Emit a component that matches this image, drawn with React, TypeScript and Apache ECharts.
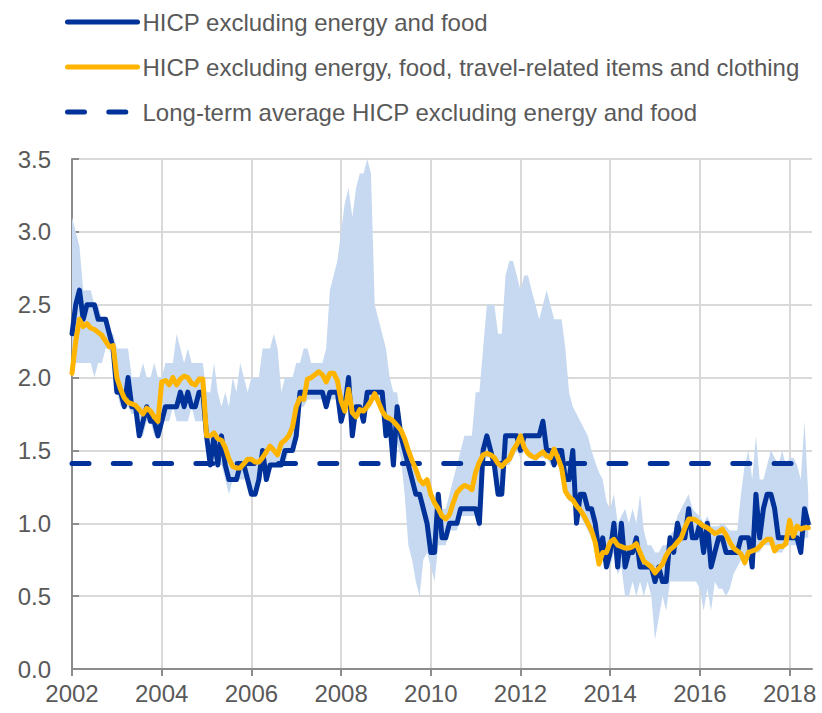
import React, { useEffect, useRef } from "react";
import * as echarts from "echarts";

// ---------- data (monthly, Jan 2002 – Jun 2018) ----------
const startYear = 2002;
const axisMonths = 199; // Jan 2002 .. Jul 2018 (axis end)

// HICP excluding energy and food (annual % change)
const hicpx = [
  2.3, 2.5, 2.6, 2.4, 2.5, 2.5, 2.5, 2.4, 2.4, 2.4, 2.3, 2.2,
  1.9, 1.9, 1.8, 2.0, 1.8, 1.8, 1.6, 1.7, 1.8, 1.7, 1.7, 1.6,
  1.7, 1.8, 1.8, 1.8, 1.8, 1.9, 1.8, 1.9, 1.8, 1.8, 1.9, 1.9,
  1.6, 1.4, 1.6, 1.4, 1.6, 1.4, 1.3, 1.3, 1.3, 1.4, 1.4, 1.3,
  1.2, 1.2, 1.3, 1.5, 1.3, 1.4, 1.4, 1.4, 1.4, 1.5, 1.5, 1.5,
  1.6, 1.9, 1.9, 1.9, 1.9, 1.9, 1.9, 1.9, 1.8, 1.9, 1.9, 1.9,
  1.7, 1.8, 2.0, 1.6, 1.8, 1.8, 1.7, 1.9, 1.9, 1.9, 1.9, 1.9,
  1.6, 1.7, 1.4, 1.8, 1.6, 1.5, 1.4, 1.3, 1.2, 1.2, 1.1, 1.0,
  0.8, 0.8, 1.2, 0.9, 0.9, 1.0, 1.0, 1.0, 1.1, 1.1, 1.1, 1.1,
  1.1, 1.0, 1.5, 1.6, 1.5, 1.4, 1.2, 1.2, 1.6, 1.6, 1.6, 1.6,
  1.5, 1.6, 1.6, 1.6, 1.6, 1.6, 1.7, 1.5, 1.5, 1.4, 1.5, 1.5,
  1.3, 1.3, 1.5, 1.0, 1.2, 1.2, 1.1, 1.1, 1.0, 0.8, 0.9, 0.7,
  0.8, 1.0, 0.7, 1.0, 0.7, 0.8, 0.8, 0.9, 0.7, 0.7, 0.7, 0.7,
  0.6, 0.7, 0.6, 0.6, 0.9, 0.8, 1.0, 0.9, 0.9, 1.1, 0.9, 0.9,
  1.0, 0.8, 1.0, 0.7, 0.8, 0.9, 0.9, 0.8, 0.8, 0.8, 0.8, 0.9,
  0.9, 0.9, 0.7, 1.2, 0.9, 1.1, 1.2, 1.2, 1.1, 0.9, 0.9, 0.9,
  0.9, 0.9, 0.9, 0.8, 1.1, 1.0,
];

// HICP excluding energy, food, travel-related items and clothing
const hicpxNarrow = [
  2.03, 2.25, 2.4, 2.35, 2.37, 2.34, 2.33, 2.31, 2.29, 2.25, 2.21, 2.22,
  2.0, 1.92, 1.86, 1.83, 1.82, 1.81, 1.78, 1.75, 1.79, 1.77, 1.73, 1.7,
  1.97, 1.98, 1.95, 2.0, 1.95, 1.99, 2.01, 2.0, 1.96, 1.95, 1.99, 1.99,
  1.6, 1.6, 1.62, 1.58, 1.57, 1.52, 1.44, 1.39, 1.38, 1.38, 1.41, 1.44,
  1.44, 1.42, 1.42, 1.45, 1.49, 1.53, 1.5, 1.47, 1.55, 1.57, 1.6, 1.66,
  1.8, 1.86, 1.85, 1.99, 2.0, 2.02, 2.04, 2.02, 1.97, 2.03, 2.03, 1.98,
  1.84, 1.77, 1.92, 1.76, 1.73, 1.78, 1.77, 1.8, 1.84, 1.89, 1.83, 1.77,
  1.73, 1.72, 1.7, 1.67, 1.64, 1.58, 1.5, 1.43, 1.37, 1.3, 1.27, 1.3,
  1.2, 1.14, 1.1, 1.05, 1.03, 1.06, 1.14, 1.21, 1.24, 1.26, 1.25, 1.23,
  1.35, 1.42, 1.47, 1.48, 1.47, 1.45, 1.41, 1.39, 1.42, 1.44, 1.5, 1.54,
  1.6, 1.52, 1.48, 1.46, 1.45, 1.47, 1.49, 1.46, 1.45, 1.51, 1.45, 1.38,
  1.22, 1.18, 1.16, 1.12, 1.09, 1.05, 1.0, 0.95, 0.87, 0.72, 0.8, 0.8,
  0.87, 0.89, 0.85, 0.84, 0.83, 0.83, 0.84, 0.86, 0.8, 0.74, 0.72, 0.7,
  0.66, 0.69, 0.72, 0.78, 0.82, 0.84, 0.87, 0.9, 0.97, 1.03, 1.03, 1.02,
  1.0, 0.98, 0.97, 0.95, 0.93, 0.94, 0.96, 0.92, 0.87, 0.83, 0.81, 0.79,
  0.73, 0.8, 0.81, 0.82, 0.84, 0.87, 0.89, 0.89, 0.81, 0.84, 0.84, 0.86,
  1.02, 0.91, 0.98, 0.96, 0.97, 0.97,
];

// range of underlying inflation measures (shaded band)
const rangeLow = [
  2.0, 2.1, 2.1, 2.1, 2.1, 2.1, 2.0, 2.1, 2.1, 2.2, 2.2, 2.1,
  1.9, 1.8, 1.8, 1.8, 1.75, 1.75, 1.6, 1.6, 1.7, 1.7, 1.6, 1.6,
  1.7, 1.7, 1.7, 1.8, 1.7, 1.7, 1.7, 1.7, 1.8, 1.7, 1.7, 1.7,
  1.5, 1.4, 1.5, 1.4, 1.4, 1.3, 1.2, 1.3, 1.3, 1.3, 1.3, 1.3,
  1.2, 1.2, 1.3, 1.4, 1.3, 1.4, 1.4, 1.4, 1.4, 1.4, 1.5, 1.5,
  1.55, 1.8, 1.8, 1.85, 1.85, 1.85, 1.85, 1.85, 1.8, 1.85, 1.85, 1.85,
  1.7, 1.75, 1.9, 1.6, 1.7, 1.75, 1.7, 1.8, 1.8, 1.85, 1.8, 1.75,
  1.6, 1.6, 1.4, 1.55, 1.45, 1.2, 0.85, 0.75, 0.6, 0.5, 0.75, 0.8,
  0.7, 0.6, 0.85, 0.85, 0.85, 0.95, 0.95, 0.95, 1.05, 1.05, 1.05, 1.05,
  1.05, 0.95, 1.4, 1.45, 1.45, 1.4, 1.2, 1.2, 1.4, 1.4, 1.45, 1.5,
  1.45, 1.5, 1.45, 1.45, 1.4, 1.45, 1.45, 1.45, 1.4, 1.4, 1.4, 1.35,
  1.2, 1.15, 1.15, 1.0, 1.05, 1.0, 0.95, 0.9, 0.85, 0.7, 0.75, 0.7,
  0.7, 0.8, 0.65, 0.7, 0.5, 0.5, 0.6, 0.5, 0.6, 0.5, 0.6, 0.5,
  0.2, 0.35, 0.5, 0.4, 0.6, 0.6, 0.6, 0.6, 0.6, 0.6, 0.6, 0.6,
  0.55, 0.4, 0.55, 0.4, 0.6, 0.55, 0.55, 0.5, 0.55, 0.65, 0.7, 0.75,
  0.7, 0.75, 0.7, 0.8, 0.8, 0.85, 0.85, 0.85, 0.8, 0.8, 0.8, 0.85,
  0.85, 0.85, 0.85, 0.8, 0.9, 0.9,
];

const rangeHigh = [
  3.1, 3.0, 2.9, 2.6, 2.6, 2.6, 2.5, 2.5, 2.4, 2.4, 2.3, 2.3,
  2.2, 2.2, 2.2, 2.2, 2.0, 2.0, 2.0, 2.1, 2.0, 2.0, 2.1, 2.0,
  2.0, 2.1, 2.1, 2.1, 2.3, 2.2, 2.1, 2.2, 2.1, 2.1, 2.1, 2.1,
  1.9, 1.9, 2.1, 1.9, 1.8, 1.9, 1.8, 2.0, 1.9, 2.1, 2.0, 1.9,
  2.0, 2.0, 2.0, 2.2, 2.2, 2.2, 2.3, 2.2, 1.9, 2.0, 2.0, 2.0,
  2.1, 2.1, 2.2, 2.2, 2.1, 2.1, 2.1, 2.1, 2.2, 2.6, 2.7, 2.8,
  3.0, 3.2, 3.3, 3.1, 3.3, 3.4, 3.4, 3.5, 3.4, 2.5, 2.4, 2.3,
  2.2, 2.0, 1.9, 1.9, 1.7, 1.6, 1.52, 1.45, 1.4, 1.32, 1.28, 1.3,
  1.2, 1.15, 1.2, 1.1, 1.1, 1.2, 1.3, 1.4, 1.5, 1.6, 1.6, 1.6,
  1.9, 1.9, 2.2, 2.5, 2.5, 2.5, 2.3, 2.3, 2.7, 2.8, 2.8, 2.7,
  2.6, 2.7, 2.7, 2.6, 2.5, 2.4, 2.5, 2.6, 2.5, 2.4, 2.4, 2.4,
  2.2, 1.9, 1.8, 1.75, 1.7, 1.65, 1.6, 1.5, 1.42, 1.35, 1.3, 1.15,
  1.1, 1.2, 1.0, 1.05, 1.1, 1.0, 1.1, 1.0, 1.2, 0.95, 0.85, 0.85,
  0.8, 0.8, 0.85, 0.85, 0.92, 0.95, 1.05, 1.1, 1.15, 1.2, 1.1, 1.07,
  1.05, 1.0, 1.05, 0.98, 0.98, 0.98, 1.0, 0.98, 0.95, 0.95, 0.95, 1.2,
  1.4, 1.5, 1.3, 1.6, 1.3, 1.3, 1.4, 1.5, 1.45, 1.4, 1.5, 1.4,
  1.45, 1.45, 1.4, 1.3, 1.7, 1.2,
];

const longTermAverage = 1.41;

const seriesNames = [
  "HICP excluding energy and food",
  "HICP excluding energy, food, travel-related items and clothing",
  "Long-term average HICP excluding energy and food",
];

const yTickValues = [0, 0.5, 1, 1.5, 2, 2.5, 3, 3.5];

// ---------- derived helpers ----------
const categories: string[] = [];
for (let i = 0; i < axisMonths; i++) {
  const y = startYear + Math.floor(i / 12);
  const m = (i % 12) + 1;
  categories.push(`${y}-${m < 10 ? "0" + m : m}`);
}
const rangeSpan = rangeHigh.map((h, i) => +(h - rangeLow[i]).toFixed(3));
const lastIndex = hicpx.length - 1;

const FONT = "'Liberation Sans', Arial, Helvetica, sans-serif";
const TEXT = "#595959";
const BLUE = "#003299";
const YELLOW = "#ffb400";
const BAND = "#c6d9f0";
const GRID = "#d9d9d9";
const AXIS = "#8c8c8c";

const everyTwoYears = (i: number) => i % 24 === 0;

export default function App() {
  const ref = useRef<HTMLDivElement>(null);

  useEffect(() => {
    if (!ref.current) return;
    const chart = echarts.init(ref.current, undefined, { renderer: "svg" });
    chart.setOption({
      animation: false,
      textStyle: { fontFamily: FONT },
      grid: { left: 72, right: 10, top: 159, bottom: 44, containLabel: false },
      legend: {
        orient: "vertical",
        left: 65,
        top: 10,
        padding: 0,
        itemWidth: 70,
        itemHeight: 12,
        itemGap: 21,
        selectedMode: false,
        data: seriesNames,
        itemStyle: { opacity: 0, borderWidth: 0 },
        lineStyle: { width: 5, cap: "round" },
        textStyle: { fontSize: 24, color: TEXT, fontFamily: FONT, lineHeight: 24 },
      },
      xAxis: {
        type: "category",
        data: categories,
        boundaryGap: false,
        axisLine: { lineStyle: { color: AXIS, width: 2 } },
        axisTick: { interval: everyTwoYears, length: 7, lineStyle: { color: AXIS, width: 2 } },
        axisLabel: {
          interval: everyTwoYears,
          formatter: (v: string) => v.slice(0, 4),
          fontSize: 24,
          color: TEXT,
          fontFamily: FONT,
          margin: 12,
        },
        splitLine: { show: true, interval: everyTwoYears, lineStyle: { color: GRID, width: 2 } },
      },
      yAxis: {
        type: "value",
        min: yTickValues[0],
        max: yTickValues[yTickValues.length - 1],
        interval: 0.5,
        axisLine: { show: true, lineStyle: { color: AXIS, width: 2 } },
        axisTick: { show: true, inside: true, length: 7, lineStyle: { color: AXIS, width: 2 } },
        axisLabel: {
          formatter: (v: number) => v.toFixed(1),
          fontSize: 24,
          color: TEXT,
          fontFamily: FONT,
          margin: 21,
        },
        splitLine: { lineStyle: { color: GRID, width: 2 } },
      },
      series: [
        {
          name: "rangeLow",
          type: "line",
          data: rangeLow,
          stack: "range",
          symbol: "none",
          silent: true,
          lineStyle: { width: 0, opacity: 0 },
          z: 1,
        },
        {
          name: "rangeSpan",
          type: "line",
          data: rangeSpan,
          stack: "range",
          symbol: "none",
          silent: true,
          lineStyle: { width: 0, opacity: 0 },
          areaStyle: { color: BAND, opacity: 1 },
          z: 1,
        },
        {
          name: seriesNames[2],
          type: "line",
          data: [
            [0, longTermAverage],
            [lastIndex, longTermAverage],
          ],
          symbol: "none",
          silent: true,
          itemStyle: { color: BLUE },
          lineStyle: { color: BLUE, width: 5, type: [17, 24.3], cap: "round" },
          z: 2,
        },
        {
          name: seriesNames[0],
          type: "line",
          data: hicpx,
          symbol: "none",
          silent: true,
          itemStyle: { color: BLUE },
          lineStyle: { color: BLUE, width: 5, cap: "round", join: "round" },
          z: 3,
        },
        {
          name: seriesNames[1],
          type: "line",
          data: hicpxNarrow,
          symbol: "none",
          silent: true,
          itemStyle: { color: YELLOW },
          lineStyle: { color: YELLOW, width: 5, cap: "round", join: "round" },
          z: 4,
        },
      ],
    });
    return () => chart.dispose();
  }, []);

  return (
    <div
      ref={ref}
      style={{ position: "absolute", left: 0, top: 0, width: 822, height: 713, background: "#fff" }}
    />
  );
}
